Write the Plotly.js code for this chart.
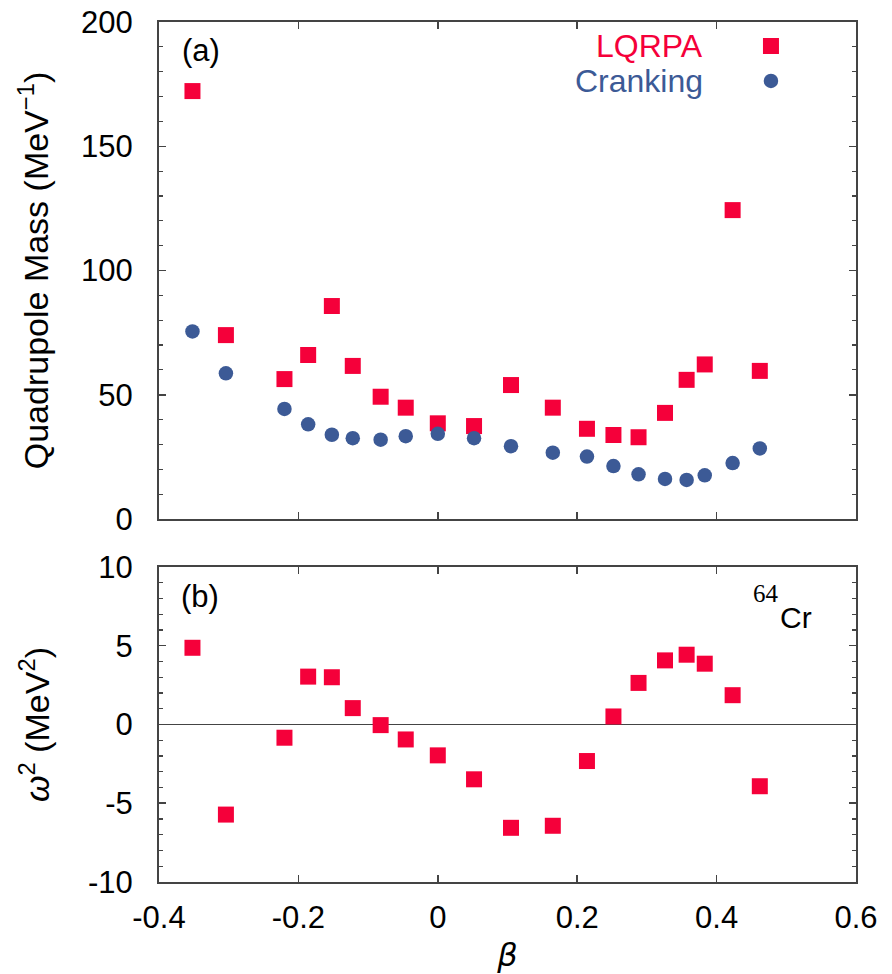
<!DOCTYPE html>
<html>
<head>
<meta charset="utf-8">
<script src="https://cdn.plot.ly/plotly-3.0.1.min.js"></script>
<style>html,body{margin:0;padding:0;background:#fff;}#chart{width:892px;height:974px;}</style>
</head>
<body>
<div id="chart"></div>
<script>
// beta values (deformation)
const beta = [-0.352, -0.304, -0.220, -0.186, -0.152, -0.122, -0.082, -0.046, 0.000, 0.052,
              0.105, 0.165, 0.214, 0.252, 0.288, 0.326, 0.357, 0.383, 0.423, 0.462];
// Panel (a): quadrupole mass (MeV^-1)
const massLQRPA = [172.2, 74.0, 56.3, 66.0, 85.7, 61.6, 49.2, 44.8, 38.5, 37.4,
                   53.9, 44.8, 36.3, 33.8, 32.9, 42.7, 56.0, 62.2, 124.3, 59.6];
const massCranking = [75.5, 58.6, 44.3, 38.1, 33.9, 32.5, 31.9, 33.3, 34.3, 32.5,
                      29.3, 26.7, 25.1, 21.3, 18.0, 16.1, 15.7, 17.6, 22.5, 28.4];
// Panel (b): omega^2 (MeV^2)
const omega2 = [4.87, -5.72, -0.84, 3.04, 3.00, 1.04, -0.04, -0.95, -1.96, -3.48,
                -6.56, -6.43, -2.32, 0.51, 2.64, 4.07, 4.43, 3.86, 1.86, -3.92];

const xTickVals = [-0.4, -0.2, 0, 0.2, 0.4, 0.6];
const xTickText = ['-0.4', '-0.2', '0', '0.2', '0.4', '0.6'];
const yMassTickVals = [0, 50, 100, 150, 200];
const yMassTickText = ['0', '50', '100', '150', '200'];
const yOmegaTickVals = [-10, -5, 0, 5, 10];
const yOmegaTickText = ['-10', '-5', '0', '5', '10'];

const RED = '#F5003A';
const BLUE = '#3C5A96';
const AX = '#444444';
const FONT = 'Liberation Sans, Arial, Helvetica, sans-serif';

const traces = [
  {x: beta, y: massLQRPA, xaxis: 'x2', yaxis: 'y2', type: 'scatter', mode: 'markers',
   name: 'LQRPA', marker: {symbol: 'square', size: 16, color: RED}},
  {x: beta, y: massCranking, xaxis: 'x2', yaxis: 'y2', type: 'scatter', mode: 'markers',
   name: 'Cranking', marker: {symbol: 'circle', size: 14.5, color: BLUE}},
  {x: beta, y: omega2, xaxis: 'x', yaxis: 'y', type: 'scatter', mode: 'markers',
   name: 'LQRPA ω²', marker: {symbol: 'square', size: 16, color: RED}}
];

const common = {
  showline: true, linecolor: AX, linewidth: 2, mirror: 'ticks',
  ticks: 'inside', ticklen: 7, tickwidth: 1.5, tickcolor: AX,
  showgrid: false, tickfont: {family: FONT, size: 31, color: '#000'}
};

const layout = {
  width: 892, height: 974,
  margin: {l: 159, r: 36, t: 22, b: 92},
  paper_bgcolor: '#fff', plot_bgcolor: '#fff',
  showlegend: false,
  font: {family: FONT, color: '#000'},
  xaxis: Object.assign({}, common, {
    anchor: 'y', range: [-0.4, 0.6], tickmode: 'array', tickvals: xTickVals, ticktext: xTickText,
    zeroline: false, ticklabelstandoff: 7,
    title: {text: '<i>β</i>', font: {family: 'DejaVu Sans, sans-serif', size: 32}, standoff: 10}
  }),
  xaxis2: Object.assign({}, common, {
    anchor: 'y2', matches: 'x', range: [-0.4, 0.6], tickmode: 'array', tickvals: xTickVals,
    showticklabels: false, zeroline: false
  }),
  yaxis: Object.assign({}, common, {
    domain: [0, 0.3663], range: [-10, 10], tickmode: 'array',
    tickvals: yOmegaTickVals, ticktext: yOmegaTickText,
    minor: {tickmode: 'linear', tick0: 0, dtick: 1, ticks: 'inside', ticklen: 4, tickcolor: AX, tickwidth: 1.2},
    zeroline: true, zerolinecolor: AX, zerolinewidth: 1.5, ticklabelstandoff: 18,
    title: {text: '<i>ω</i><sup>2</sup> (MeV<sup>2</sup>)', font: {family: FONT, size: 34}, standoff: 28}
  }),
  yaxis2: Object.assign({}, common, {
    domain: [0.4221, 1], range: [0, 200], tickmode: 'array',
    tickvals: yMassTickVals, ticktext: yMassTickText,
    minor: {tickmode: 'linear', tick0: 0, dtick: 10, ticks: 'inside', ticklen: 4, tickcolor: AX, tickwidth: 1.2},
    zeroline: false, ticklabelstandoff: 18,
    title: {text: 'Quadrupole Mass (MeV<sup>−1</sup>)', font: {family: FONT, size: 34}, standoff: 22}
  }),
  annotations: [
    {xref: 'paper', yref: 'paper', x: 0.7834, y: 0.9721, xanchor: 'right', yanchor: 'middle',
     text: 'LQRPA', showarrow: false, font: {family: FONT, size: 32, color: RED}},
    {xref: 'paper', yref: 'paper', x: 0.7834, y: 0.9314, xanchor: 'right', yanchor: 'middle',
     text: 'Cranking', showarrow: false, font: {family: FONT, size: 32, color: BLUE}},
    {xref: 'paper', yref: 'paper', x: 0.0603, y: 0.9674, xanchor: 'center', yanchor: 'middle',
     text: '(a)', showarrow: false, font: {family: FONT, size: 31, color: '#000'}},
    {xref: 'paper', yref: 'paper', x: 0.0588, y: 0.3314, xanchor: 'center', yanchor: 'middle',
     text: '(b)', showarrow: false, font: {family: FONT, size: 31, color: '#000'}},
    {xref: 'paper', yref: 'paper', x: 0.8715, y: 0.3360, xanchor: 'center', yanchor: 'middle',
     text: '64', showarrow: false, font: {family: 'Liberation Serif, Times New Roman, serif', size: 25, color: '#000'}},
    {xref: 'paper', yref: 'paper', x: 0.9140, y: 0.3070, xanchor: 'center', yanchor: 'middle',
     text: 'Cr', showarrow: false, font: {family: FONT, size: 30, color: '#000'}}
  ],
  shapes: [
    {type: 'rect', xref: 'paper', yref: 'paper', xsizemode: 'pixel', ysizemode: 'pixel',
     xanchor: 0.878, yanchor: 0.9721, x0: -8, x1: 8, y0: -8, y1: 8,
     fillcolor: RED, line: {width: 0}},
    {type: 'circle', xref: 'paper', yref: 'paper', xsizemode: 'pixel', ysizemode: 'pixel',
     xanchor: 0.878, yanchor: 0.9314, x0: -7.25, x1: 7.25, y0: -7.25, y1: 7.25,
     fillcolor: BLUE, line: {width: 0}}
  ]
};

Plotly.newPlot('chart', traces, layout, {staticPlot: true, displayModeBar: false});
</script>
</body>
</html>
